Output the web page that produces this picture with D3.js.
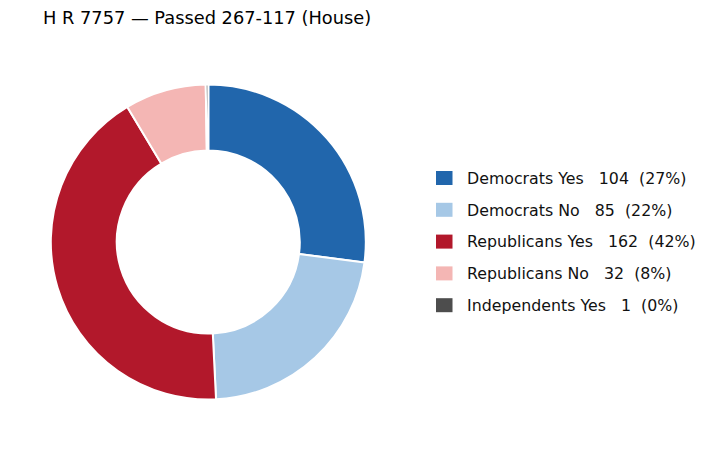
<!DOCTYPE html>
<html>
<head>
<meta charset="utf-8">
<script src="https://cdn.jsdelivr.net/npm/d3@7"></script>
<style>
  html, body { margin: 0; padding: 0; background: #fff; }
  svg { display: block; font-family: "DejaVu Sans", sans-serif; }
</style>
</head>
<body>
<svg id="chart" width="712" height="450"></svg>
<script>
const title = "H R 7757 \u2014 Passed 267-117 (House)";
const categories = ["Democrats Yes", "Democrats No", "Republicans Yes", "Republicans No", "Independents Yes"];
const values = [104, 85, 162, 32, 1];
const colors = ["#2166ac", "#a6c8e6", "#b2182b", "#f4b6b4", "#4d4d4d"];

const svg = d3.select("#chart");
const total = d3.sum(values);
const data = categories.map((c, i) => ({ name: c, value: values[i], color: colors[i] }));

const cx = 208.3, cy = 242, outerR = 157.5, innerR = 91.5;

svg.append("text")
  .attr("x", 43).attr("y", 24)
  .attr("font-size", 17.8)
  .attr("fill", "#000")
  .text(title);

const pie = d3.pie().sort(null).value(d => d.value).startAngle(0).endAngle(2 * Math.PI);
const arc = d3.arc().innerRadius(innerR).outerRadius(outerR);

const g = svg.append("g").attr("transform", `translate(${cx},${cy})`);
g.selectAll("path")
  .data(pie(data))
  .join("path")
  .attr("d", arc)
  .attr("fill", d => d.data.color)
  .attr("stroke", "#fff")
  .attr("stroke-width", 2)
  .attr("stroke-linejoin", "round");

const pct = v => Math.round(v / total * 100);
const legend = svg.append("g").attr("transform", "translate(436,178)");
const rowH = 31.8;
const rows = legend.selectAll("g")
  .data(data)
  .join("g")
  .attr("transform", (d, i) => `translate(0,${i * rowH})`);
rows.append("rect")
  .attr("x", 0).attr("y", -7)
  .attr("width", 16.5).attr("height", 14)
  .attr("fill", d => d.color);
rows.append("text")
  .attr("x", 31).attr("y", 0)
  .attr("dy", "0.36em")
  .attr("font-size", 15.8)
  .attr("fill", "#111")
  .style("white-space", "pre")
  .text(d => `${d.name}   ${d.value}  (${pct(d.value)}%)`);
</script>
</body>
</html>
